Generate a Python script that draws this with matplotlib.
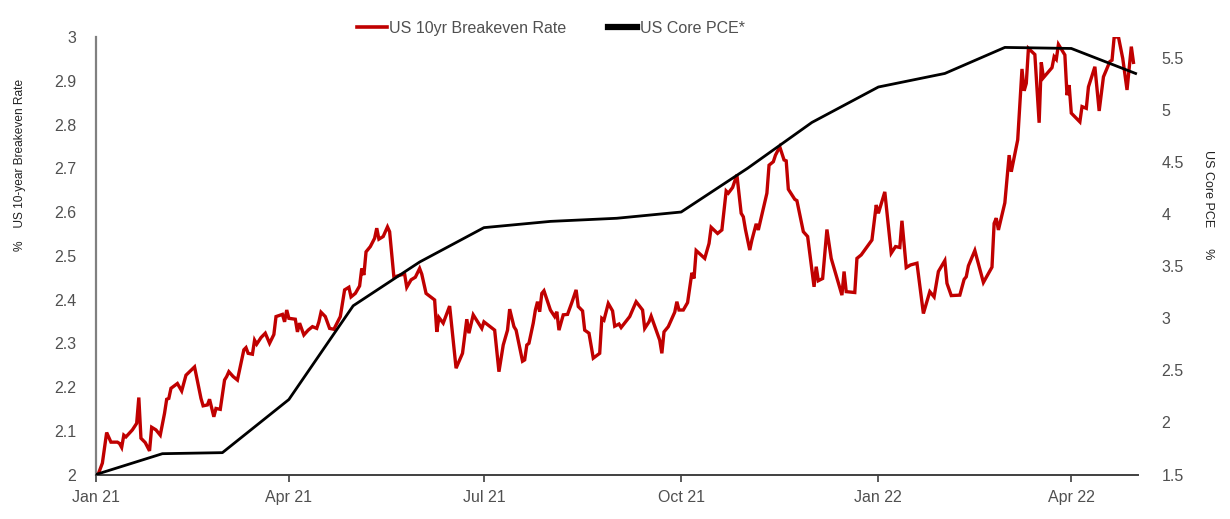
import matplotlib
matplotlib.use("Agg")
import matplotlib.pyplot as plt
import matplotlib.dates as mdates
from matplotlib.lines import Line2D
import pandas as pd

# ---------------- data ----------------
be_dates = [
    "2021-01-02", "2021-01-04", "2021-01-06", "2021-01-08", "2021-01-11", "2021-01-12", "2021-01-13",
    "2021-01-14", "2021-01-15", "2021-01-18", "2021-01-20", "2021-01-21", "2021-01-22", "2021-01-24",
    "2021-01-26", "2021-01-27", "2021-01-29", "2021-01-31", "2021-02-02", "2021-02-03", "2021-02-04",
    "2021-02-05", "2021-02-08", "2021-02-10", "2021-02-12", "2021-02-16", "2021-02-19", "2021-02-20",
    "2021-02-22", "2021-02-23", "2021-02-25", "2021-02-26", "2021-02-28", "2021-03-02", "2021-03-03",
    "2021-03-04", "2021-03-06", "2021-03-08", "2021-03-11", "2021-03-12", "2021-03-13", "2021-03-15",
    "2021-03-16", "2021-03-17", "2021-03-19", "2021-03-21", "2021-03-23", "2021-03-25", "2021-03-26",
    "2021-03-29", "2021-03-30", "2021-03-31", "2021-04-01", "2021-04-04", "2021-04-05", "2021-04-06",
    "2021-04-08", "2021-04-10", "2021-04-12", "2021-04-14", "2021-04-15", "2021-04-16", "2021-04-18",
    "2021-04-20", "2021-04-22", "2021-04-25", "2021-04-27", "2021-04-29", "2021-04-30", "2021-05-02",
    "2021-05-04", "2021-05-05", "2021-05-06", "2021-05-07", "2021-05-09", "2021-05-11", "2021-05-12",
    "2021-05-13", "2021-05-15", "2021-05-17", "2021-05-18", "2021-05-20", "2021-05-23", "2021-05-25",
    "2021-05-26", "2021-05-28", "2021-05-30", "2021-06-01", "2021-06-02", "2021-06-04", "2021-06-08",
    "2021-06-09", "2021-06-10", "2021-06-12", "2021-06-15", "2021-06-18", "2021-06-21", "2021-06-23",
    "2021-06-24", "2021-06-26", "2021-06-30", "2021-07-01", "2021-07-06", "2021-07-08", "2021-07-10",
    "2021-07-12", "2021-07-13", "2021-07-15", "2021-07-16", "2021-07-19", "2021-07-20", "2021-07-21",
    "2021-07-22", "2021-07-24", "2021-07-25", "2021-07-26", "2021-07-27", "2021-07-28", "2021-07-29",
    "2021-08-01", "2021-08-03", "2021-08-04", "2021-08-05", "2021-08-07", "2021-08-09", "2021-08-11",
    "2021-08-13", "2021-08-14", "2021-08-16", "2021-08-17", "2021-08-19", "2021-08-21", "2021-08-24",
    "2021-08-25", "2021-08-26", "2021-08-28", "2021-08-30", "2021-08-31", "2021-09-02", "2021-09-03",
    "2021-09-07", "2021-09-09", "2021-09-10", "2021-09-13", "2021-09-14", "2021-09-16", "2021-09-17",
    "2021-09-21", "2021-09-22", "2021-09-23", "2021-09-25", "2021-09-28", "2021-09-29", "2021-09-30",
    "2021-10-02", "2021-10-04", "2021-10-06", "2021-10-07", "2021-10-08", "2021-10-12", "2021-10-14",
    "2021-10-15", "2021-10-18", "2021-10-20", "2021-10-22", "2021-10-23", "2021-10-25", "2021-10-27",
    "2021-10-29", "2021-10-30", "2021-10-31", "2021-11-02", "2021-11-03", "2021-11-05", "2021-11-06",
    "2021-11-10", "2021-11-11", "2021-11-13", "2021-11-14", "2021-11-16", "2021-11-18", "2021-11-19",
    "2021-11-20", "2021-11-23", "2021-11-24", "2021-11-27", "2021-11-29", "2021-12-02", "2021-12-03",
    "2021-12-04", "2021-12-06", "2021-12-08", "2021-12-10", "2021-12-15", "2021-12-16", "2021-12-17",
    "2021-12-21", "2021-12-22", "2021-12-24", "2021-12-29", "2021-12-31", "2022-01-01", "2022-01-04",
    "2022-01-07", "2022-01-09", "2022-01-11", "2022-01-12", "2022-01-14", "2022-01-16", "2022-01-19",
    "2022-01-22", "2022-01-25", "2022-01-27", "2022-01-29", "2022-02-01", "2022-02-02", "2022-02-04",
    "2022-02-08", "2022-02-10", "2022-02-11", "2022-02-12", "2022-02-15", "2022-02-19", "2022-02-23",
    "2022-02-24", "2022-02-25", "2022-02-26", "2022-03-01", "2022-03-03", "2022-03-04", "2022-03-07",
    "2022-03-09", "2022-03-10", "2022-03-11", "2022-03-12", "2022-03-15", "2022-03-17", "2022-03-18",
    "2022-03-19", "2022-03-23", "2022-03-24", "2022-03-25", "2022-03-26", "2022-03-29", "2022-03-30",
    "2022-03-31", "2022-04-01", "2022-04-05", "2022-04-06", "2022-04-08", "2022-04-09", "2022-04-12",
    "2022-04-14", "2022-04-16", "2022-04-19", "2022-04-20", "2022-04-21", "2022-04-23", "2022-04-25",
    "2022-04-27", "2022-04-29", "2022-04-30",
]
be_values = [
    2.000, 2.026, 2.096, 2.074, 2.074, 2.071, 2.062,
    2.090, 2.086, 2.102, 2.117, 2.176, 2.083, 2.073,
    2.054, 2.108, 2.102, 2.090, 2.140, 2.172, 2.174,
    2.197, 2.208, 2.191, 2.227, 2.246, 2.174, 2.157,
    2.159, 2.172, 2.132, 2.151, 2.149, 2.216, 2.224,
    2.235, 2.224, 2.216, 2.285, 2.290, 2.277, 2.275,
    2.307, 2.298, 2.313, 2.323, 2.300, 2.320, 2.361,
    2.366, 2.349, 2.376, 2.357, 2.355, 2.326, 2.346,
    2.319, 2.330, 2.338, 2.334, 2.349, 2.371, 2.361,
    2.334, 2.332, 2.361, 2.422, 2.428, 2.406, 2.414,
    2.431, 2.471, 2.456, 2.509, 2.521, 2.540, 2.563,
    2.538, 2.544, 2.566, 2.555, 2.451, 2.456, 2.458,
    2.428, 2.445, 2.451, 2.471, 2.458, 2.414, 2.399,
    2.326, 2.359, 2.346, 2.385, 2.243, 2.277, 2.355,
    2.323, 2.365, 2.334, 2.349, 2.330, 2.235, 2.296,
    2.330, 2.378, 2.338, 2.330, 2.259, 2.262, 2.296,
    2.300, 2.346, 2.376, 2.395, 2.372, 2.414, 2.420,
    2.376, 2.361, 2.372, 2.330, 2.365, 2.366, 2.393,
    2.422, 2.384, 2.374, 2.330, 2.323, 2.266, 2.277,
    2.357, 2.353, 2.391, 2.374, 2.339, 2.344, 2.336,
    2.361, 2.384, 2.395, 2.376, 2.334, 2.349, 2.362,
    2.307, 2.277, 2.326, 2.338, 2.371, 2.395, 2.376,
    2.376, 2.393, 2.461, 2.448, 2.512, 2.494, 2.528,
    2.565, 2.551, 2.559, 2.648, 2.643, 2.656, 2.685,
    2.597, 2.589, 2.560, 2.513, 2.536, 2.573, 2.559,
    2.643, 2.707, 2.715, 2.730, 2.749, 2.719, 2.717,
    2.652, 2.629, 2.626, 2.555, 2.544, 2.429, 2.475,
    2.443, 2.448, 2.560, 2.494, 2.410, 2.464, 2.418,
    2.416, 2.494, 2.502, 2.536, 2.616, 2.597, 2.646,
    2.506, 2.521, 2.519, 2.580, 2.473, 2.479, 2.483,
    2.368, 2.418, 2.406, 2.464, 2.489, 2.437, 2.409,
    2.410, 2.446, 2.452, 2.477, 2.512, 2.439, 2.474,
    2.574, 2.586, 2.559, 2.621, 2.730, 2.692, 2.765,
    2.927, 2.877, 2.894, 2.974, 2.960, 2.804, 2.942,
    2.907, 2.930, 2.955, 2.949, 2.983, 2.959, 2.867,
    2.890, 2.826, 2.806, 2.841, 2.837, 2.886, 2.932,
    2.831, 2.909, 2.944, 2.947, 3.000, 3.000, 2.951,
    2.879, 2.978, 2.942,
]

pce_dates = [
    "2021-01-01", "2021-02-01", "2021-03-01", "2021-04-01", "2021-05-01", "2021-06-01",
    "2021-07-01", "2021-08-01", "2021-09-01", "2021-10-01", "2021-11-01", "2021-12-01",
    "2022-01-01", "2022-02-01", "2022-03-01", "2022-04-01", "2022-05-01",
]
pce_values = [
    1.50, 1.70, 1.71, 2.22, 3.12, 3.54,
    3.87, 3.93, 3.96, 4.02, 4.44, 4.88,
    5.22, 5.35, 5.60, 5.59, 5.35,
]

x_tick_dates = ["2021-01-01", "2021-04-01", "2021-07-01", "2021-10-01", "2022-01-01", "2022-04-01"]
left_ticks = [2.0, 2.1, 2.2, 2.3, 2.4, 2.5, 2.6, 2.7, 2.8, 2.9, 3.0]
left_tick_labels = ["2", "2.1", "2.2", "2.3", "2.4", "2.5", "2.6", "2.7", "2.8", "2.9", "3"]
right_ticks = [1.5, 2.0, 2.5, 3.0, 3.5, 4.0, 4.5, 5.0, 5.5]
right_tick_labels = ["1.5", "2", "2.5", "3", "3.5", "4", "4.5", "5", "5.5"]

series_names = ["US 10yr Breakeven Rate", "US Core PCE*"]
left_label = "%    US 10-year Breakeven Rate"
right_label = "US Core PCE      %"

# ---------------- style ----------------
plt.rcParams["font.family"] = ["Liberation Sans", "DejaVu Sans"]
RED = "#C00000"
TXT = "#505050"

fig = plt.figure(figsize=(12.3, 5.19), dpi=100)
ax = fig.add_axes([0.078, 0.0857, 0.847, 0.843])
ax2 = ax.twinx()

bd = pd.to_datetime(be_dates)
pd_ = pd.to_datetime(pce_dates)

ax.plot(bd, be_values, color=RED, lw=2.4, solid_joinstyle="miter", zorder=3)
ax2.plot(pd_, pce_values, color="black", lw=2.0, zorder=4)

ax.set_xlim(pd.Timestamp("2021-01-01"), pd.Timestamp("2022-05-02"))
ax.set_ylim(2.0, 3.0)
ax2.set_ylim(1.5, 5.7)

ax.set_xticks(pd.to_datetime(x_tick_dates))
ax.xaxis.set_major_formatter(mdates.DateFormatter("%b %y"))
ax.set_yticks(left_ticks)
ax.set_yticklabels(left_tick_labels)
ax2.set_yticks(right_ticks)
ax2.set_yticklabels(right_tick_labels)

for a in (ax, ax2):
    for s in ("top", "right"):
        a.spines[s].set_visible(False)
ax2.spines["left"].set_visible(False)
ax2.spines["bottom"].set_visible(False)
ax.spines["left"].set_color("#808080")
ax.spines["left"].set_linewidth(1.6)
ax.spines["bottom"].set_color("#404040")
ax.spines["bottom"].set_linewidth(1.4)

ax.tick_params(axis="x", length=5, width=1.2, color="#404040", labelsize=11.5,
               labelcolor=TXT, pad=6)
ax.tick_params(axis="y", length=0, labelsize=11.5, labelcolor=TXT, pad=14)
ax2.tick_params(axis="y", length=0, labelsize=11.5, labelcolor=TXT, pad=17)

fig.text(0.016, 0.683, left_label, rotation=90, ha="center", va="center",
         fontsize=8.6, color="#202020")
fig.text(0.982, 0.605, right_label, rotation=270, ha="center", va="center",
         fontsize=9, color="#202020")

handles = [Line2D([0], [0], color=RED, lw=2.6),
           Line2D([0], [0], color="black", lw=4.5)]
fig.legend(handles, series_names, loc="center", bbox_to_anchor=(0.448, 0.946),
           ncol=2, frameon=False, fontsize=11.5, handlelength=1.85,
           handletextpad=0.15, columnspacing=2.6, labelcolor=TXT)

fig.savefig("out.png", dpi=100)
